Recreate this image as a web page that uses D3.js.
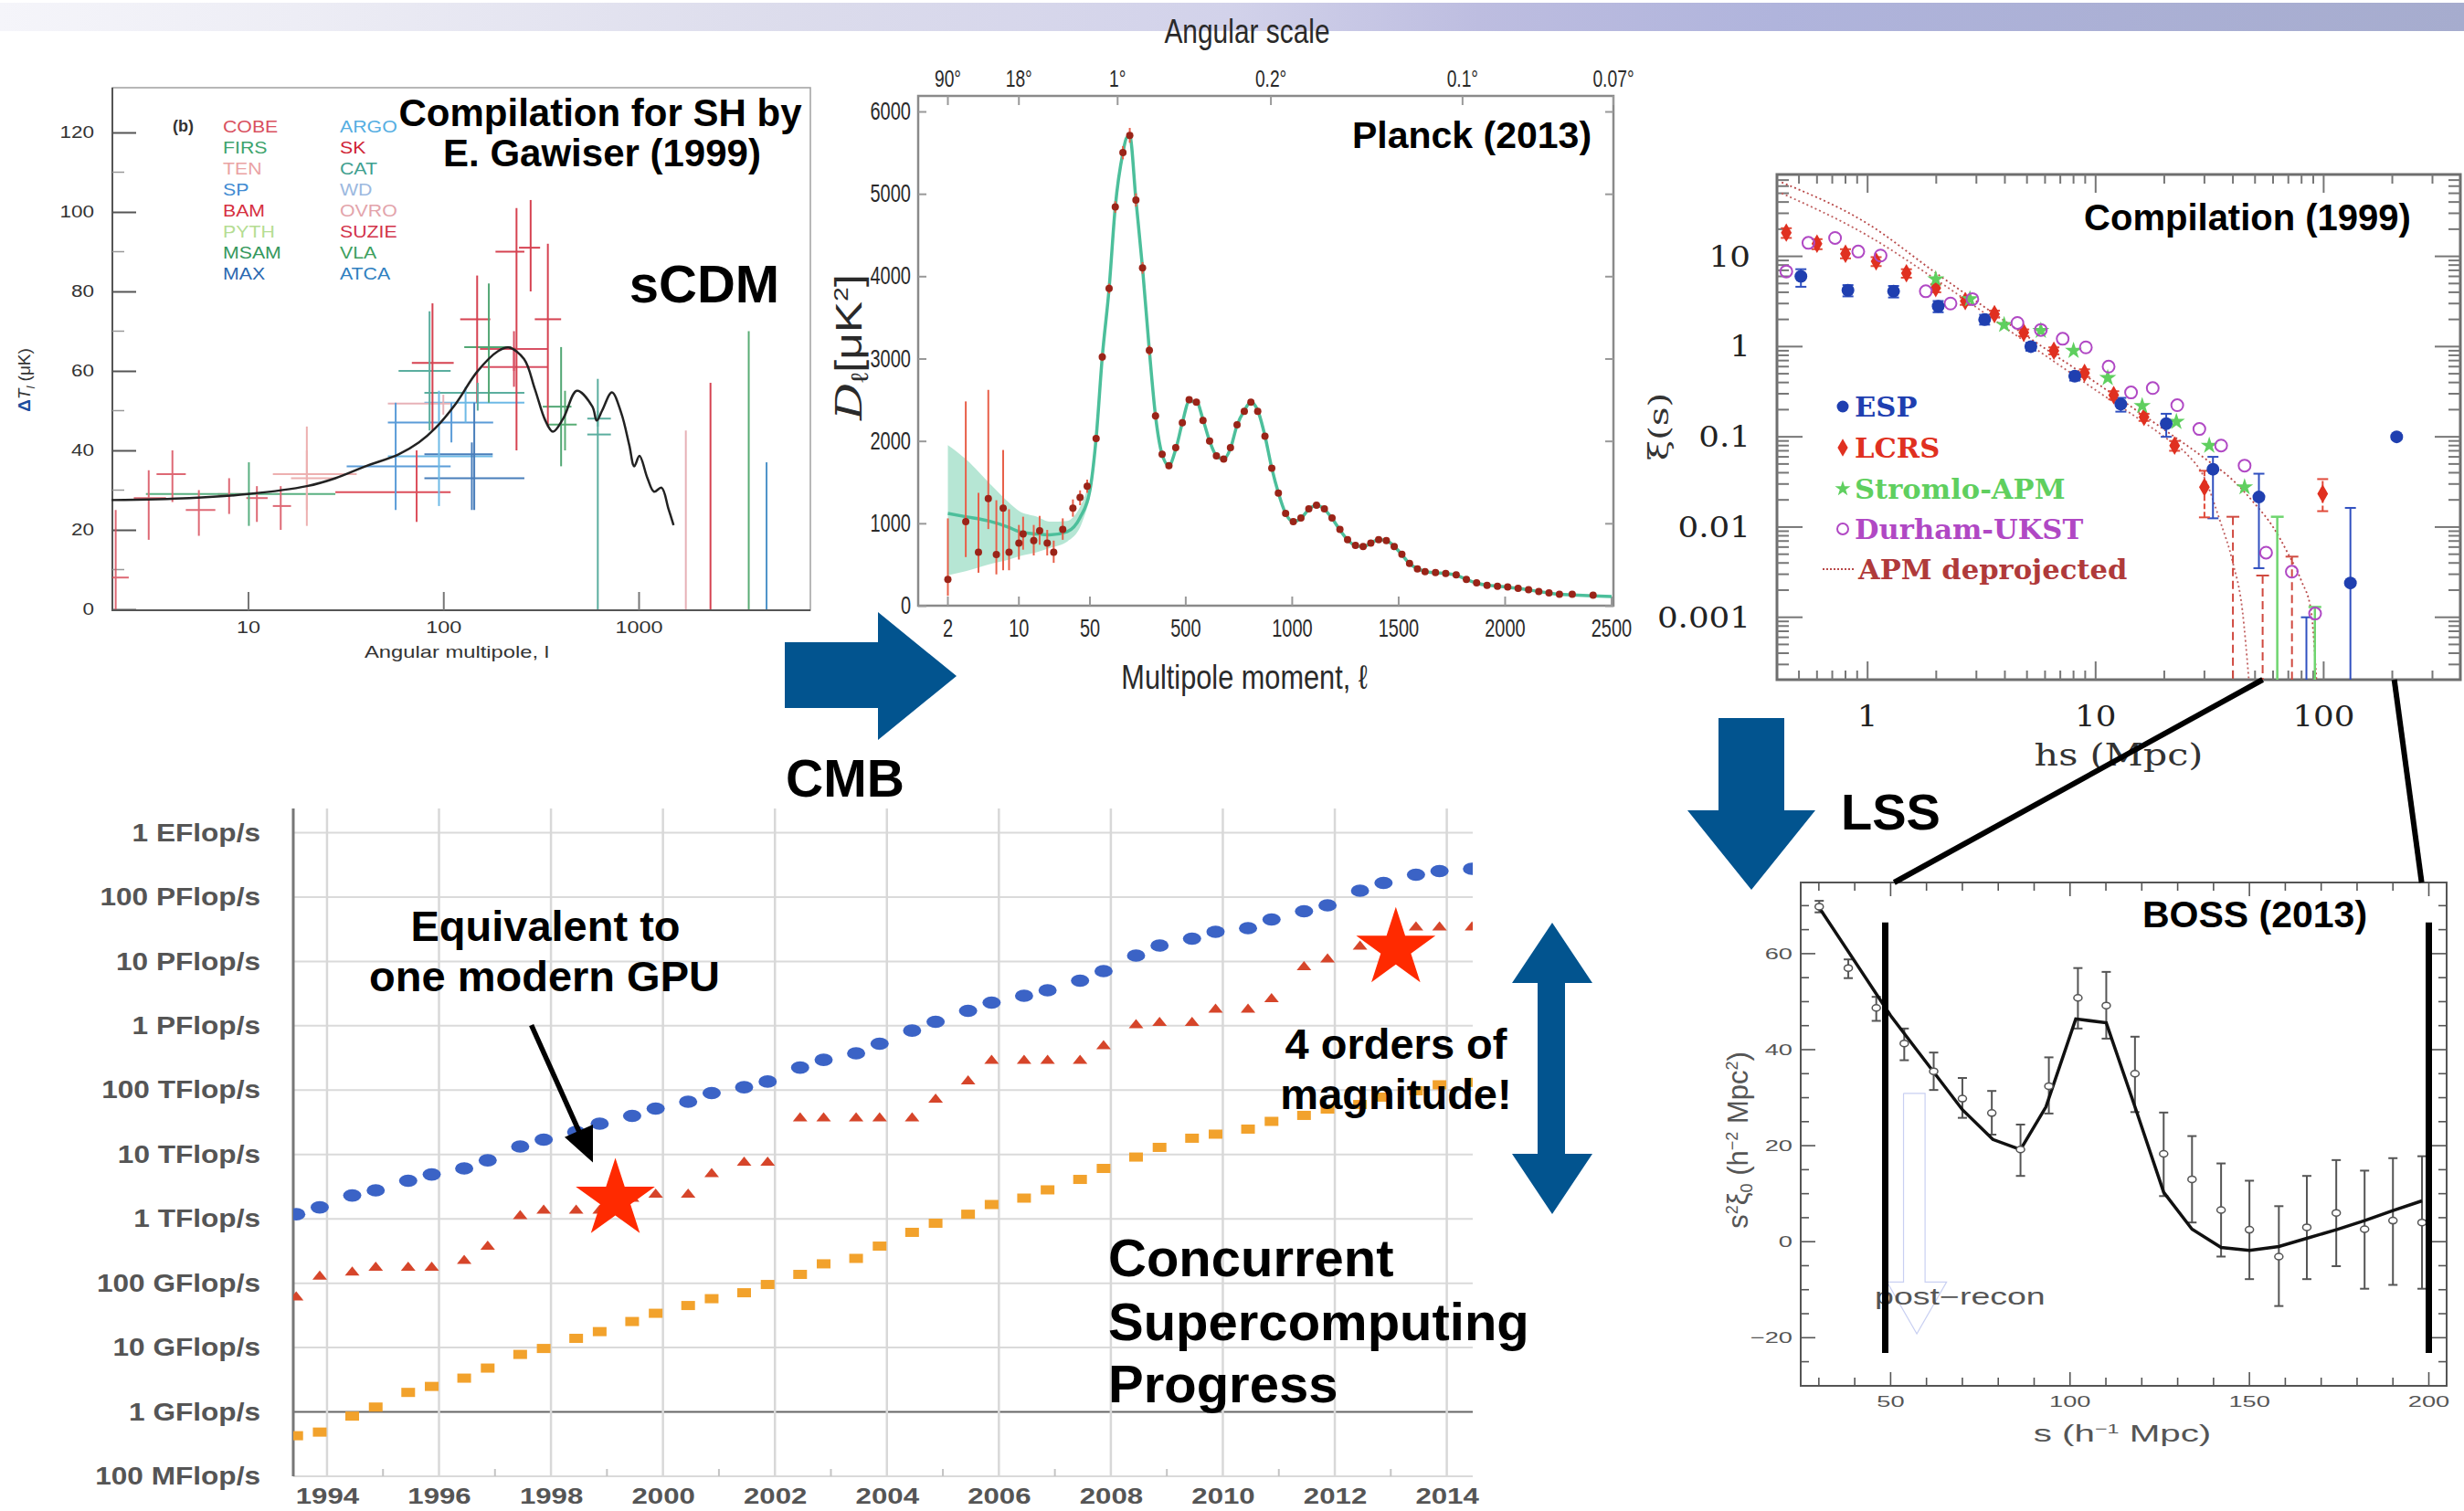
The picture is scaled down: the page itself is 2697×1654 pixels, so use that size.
<!DOCTYPE html>
<html>
<head>
<meta charset="utf-8">
<script src="https://cdn.jsdelivr.net/npm/d3@7/dist/d3.min.js"></script>
<style>
html,body{margin:0;padding:0;background:#fff;}
svg{display:block;}
</style>
</head>
<body>
<svg id="chart" width="2697" height="1654"></svg>
<script>
const SANS = "'Liberation Sans', Arial, Helvetica, sans-serif";
const SERIF = "'DejaVu Serif', 'Liberation Serif', serif";

// ================= DATA =================
// --- Panel A: CMB compilation (Gawiser 1999) ---
const cmbExperiments = ["COBE","FIRS","TEN","SP","BAM","PYTH","MSAM","MAX","ARGO","SK","CAT","WD","OVRO","SUZIE","VLA","ATCA"];
const cmbExpColors   = ["#d9505e","#3da36c","#eaa3a3","#3f8bd2","#d6303f","#b5dd92","#34985c","#2a68b0","#55aee2","#cf2233","#3fa08f","#9cb9e0","#e3a4ab","#d2334a","#3d9f5d","#2f80c0"];
const cmbYTicks = [0,20,40,60,80,100,120];
const cmbYMinor = [10,30,50,70,90,110];
const cmbXTicks = [10,100,1000];
// [experiment, l, lLo, lHi, dT, dTLo, dTHi]
const cmbPoints = [
  ["COBE", 2.1, 2.0, 2.45, 8, 0, 25],
  ["COBE", 3.1, 2.6, 3.8, 28, 17.5, 35],
  ["COBE", 4.1, 3.4, 4.8, 34, 27, 40],
  ["COBE", 5.6, 4.8, 6.8, 25, 18.5, 30],
  ["COBE", 8.0, 7.0, 9.5, 29, 24, 33],
  ["FIRS", 10.1, 3.0, 28, 29, 21, 37],
  ["COBE", 11.1, 9.8, 12.6, 28, 22, 31],
  ["COBE", 14.7, 13.4, 16.6, 26, 20, 31],
  ["TEN", 20, 13.4, 36, 34, 21, 46],
  ["TEN", 20, 16.6, 28, 33, 25, 40],
  ["BAM", 73, 28, 109, 29.5, 22, 40],
  ["SP", 57, 32, 109, 36, 25, 52],
  ["ARGO", 95, 52, 179, 38.5, 26, 55],
  ["MAX", 144, 80, 179, 39, 25, 52],
  ["MAX", 140, 80, 260, 33, 25, 42],
  ["SP", 110, 52, 180, 47, 42, 52],
  ["SK", 88, 69, 113, 62, 45, 77],
  ["CAT", 85, 59, 109, 60, 45, 75],
  ["SK", 149, 122, 174, 73, 52, 84],
  ["MSAM", 171, 128, 223, 66, 52, 82],
  ["SK", 237, 185, 260, 90, 40, 101],
  ["SK", 280, 244, 313, 91, 80, 103],
  ["SK", 343, 294, 401, 73, 46, 92],
  ["SUZIE", 230, 154, 343, 65.5, 60, 70],
  ["SUZIE", 230, 159, 343, 61, 56, 66],
  ["CAT", 150, 80, 260, 54.5, 50, 57],
  ["ARGO", 130, 80, 260, 52, 47, 56],
  ["OVRO", 100, 52, 109, 51.8, 49, 54],
  ["MSAM", 401, 323, 453, 51, 36, 66],
  ["VLA", 420, 343, 482, 46.5, 40, 55],
  ["CAT", 618, 546, 721, 44, 0, 58],
  ["CAT", 618, 546, 721, 48, 46, 50],
  ["OVRO", 1745, 1745, 1745, 0, 0, 45],
  ["SK", 2334, 2334, 2334, 0, 0, 57],
  ["VLA", 3664, 3664, 3664, 0, 0, 70],
  ["ATCA", 4520, 4520, 4520, 0, 0, 37]
];
const scdmL  = [2, 5, 10, 20, 28, 40, 59, 75, 91, 116, 149, 191, 216, 259, 294, 333, 364, 411, 483, 580, 610, 650, 730, 815, 895, 950, 1010, 1110, 1200, 1310, 1420, 1510];
const scdmDT = [27.5, 28, 29, 31, 33, 36, 39, 42, 45.6, 51.8, 59.8, 65, 65.9, 63, 55.5, 47.5, 44.7, 48, 55, 51, 47.5, 50, 54.6, 49.4, 41.4, 36, 38.6, 33, 29.6, 30.6, 25.4, 21.2];

// --- Panel B: Planck 2013 ---
const planckYTicks = [0,1000,2000,3000,4000,5000,6000];
const planckXTicks = [2,10,50,500,1000,1500,2000,2500];
const planckTopLabels = ["90°","18°","1°","0.2°","0.1°","0.07°"];
const planckTopDeg = [90,18,1,0.2,0.1,0.07];
const planckLowL  = [2,3,4,5,6,7,8,10,11,14,16,19,22,27,34,40,47];
const planckLowD  = [320,1020,650,1300,620,1185,650,760,870,790,910,760,650,925,1185,1313,1450];
const planckLowLo = [120,590,400,930,380,430,430,560,680,610,740,610,520,800,1080,1220,1370];
const planckLowHi = [1060,2480,1370,2620,1280,1890,1170,980,1080,980,1090,920,790,1060,1290,1400,1530];
const planckL = [79,108,140,169,205,237,266,297,329,358,389,421,453,484,516,550,581,612,644,678,710,741,775,806,838,872,904,935,969,1005,1041,1078,1114,1151,1187,1224,1260,1297,1333,1369,1406,1442,1479,1515,1551,1588,1624,1673,1721,1770,1818,1866,1915,1964,2012,2061,2110,2158,2206,2255,2315,2413];
const planckD = [2030,3020,3850,4840,5500,5710,4925,4100,3100,2305,1837,1700,1920,2220,2500,2470,2250,2000,1820,1780,1920,2195,2360,2470,2360,2057,1670,1368,1120,1020,1064,1175,1219,1175,1064,926,800,733,717,761,800,789,717,623,513,447,414,403,392,375,320,276,248,237,226,210,193,171,154,138,138,127];
const planckErr = [40,50,60,70,80,90,80,70,60,50,40,40,40,40,40,40,40,40,35,35,35,35,35,35,35,35,30,30,30,30,30,30,30,30,30,25,25,25,25,25,25,25,25,20,20,20,20,20,20,20,20,20,20,20,20,20,20,20,20,20,20,25];
const planckModelL = [2,3,5,8,10,15,20,30,40,50,79,108,140,169,205,222,237,266,297,329,358,389,421,453,484,516,550,581,612,644,678,710,741,775,806,838,872,904,935,969,1005,1041,1078,1114,1151,1187,1224,1260,1297,1333,1369,1406,1442,1479,1515,1551,1588,1624,1673,1721,1770,1818,1866,1915,1964,2012,2061,2110,2158,2206,2255,2315,2413,2500];
const planckModelD = [1120,1080,1030,950,900,870,860,900,1070,1400,2030,3020,3850,4840,5500,5680,5700,4925,4100,3100,2305,1837,1700,1900,2220,2480,2480,2260,2000,1820,1780,1910,2190,2370,2470,2370,2060,1670,1370,1120,1020,1060,1170,1220,1170,1060,920,800,730,715,760,800,790,720,620,510,450,415,400,390,370,320,275,248,237,225,210,192,172,154,138,130,120,110];
const planckBandL  = [2,3,5,8,10,15,20,30,40,50];
const planckBandLo = [370,420,500,560,600,650,700,780,950,1300];
const planckBandHi = [1950,1780,1500,1250,1150,1080,1020,1030,1200,1500];

// --- Panel C: xi(s) compilation 1999 ---
const xiYTicks = [10,1,0.1,0.01,0.001];
const xiYLabels = ["10","1","0.1","0.01","0.001"];
const xiXTicks = [1,10,100];
const espS  = [0.51,0.82,1.30,2.04,3.26,5.2,8.1,12.9,20.4,32.7,52,84,131,209];
const espXi = [6.0,4.2,4.1,2.8,1.99,1.0,0.47,0.23,0.14,0.0437,0.0215,0.0001,0.0024,0.1];
const espLo = [4.6,3.6,3.5,2.4,1.75,0.9,0.42,0.19,0.10,0.0125,0.0035,0.00001,0.00001,0.095];
const espHi = [7.2,4.8,4.7,3.2,2.25,1.1,0.52,0.27,0.18,0.06,0.039,0.001,0.0163,0.105];
const lcrsS  = [0.44,0.60,0.80,1.09,1.48,1.99,2.68,3.6,4.84,6.56,8.94,12.0,16.3,22.2,30,99];
const lcrsXi = [18.3,13.8,10.7,8.8,6.5,4.46,3.19,2.29,1.43,0.90,0.51,0.29,0.166,0.080,0.0277,0.0234];
const lcrsLo = [16,12,9.5,7.8,5.8,4,2.9,2.1,1.3,0.82,0.46,0.26,0.15,0.07,0.0128,0.015];
const lcrsHi = [20.5,15.5,12,9.8,7.2,4.9,3.5,2.5,1.55,0.98,0.56,0.32,0.18,0.09,0.042,0.034];
const lcrsLimS  = [40,54,72.6];
const lcrsLimHi = [0.013,0.0029,0.0047];
const stromloS  = [1.99,2.81,3.97,5.75,8.0,11.3,16,22.6,31.5,45];
const stromloXi = [5.6,3.36,1.74,1.5,0.9,0.45,0.22,0.147,0.080,0.0277];
const stromloLimS  = [62.6,91.5];
const stromloLimHi = [0.013,0.0013];
const durhamS  = [0.44,0.55,0.72,0.91,1.14,1.8,2.31,2.88,4.54,5.75,7.17,9.06,11.4,14.3,17.8,22.8,28.5,35.5,45,55.9,72.5,91.7];
const durhamXi = [6.8,14.1,16,11.3,10.2,4.1,3.0,3.36,1.83,1.53,1.22,0.98,0.60,0.31,0.347,0.224,0.122,0.080,0.048,0.0052,0.0032,0.0011];
const apmS1  = [0.42,1,2,5,10,20,30,40,50,60,70,80,88,93];
const apmXi1 = [66,23,6.5,1.3,0.4,0.12,0.058,0.033,0.018,0.01,0.005,0.0025,0.0012,0.0002];
const apmS2  = [0.42,1,2,5,10,20,25,30,35,40,44,47];
const apmXi2 = [50,17,5.5,1.1,0.33,0.1,0.065,0.035,0.012,0.004,0.0012,0.0002];
const xiLegend = ["ESP","LCRS","Stromlo-APM","Durham-UKST","APM deprojected"];
const xiColors = ["#1f3fb0","#e03020","#5fcf5f","#b048c4","#b03a3a"];

// --- Panel D: BOSS 2013 ---
const bossXTicks = [50,100,150,200];
const bossYTicks = [-20,0,20,40,60];
const bossS  = [30.1,38.2,46,53.8,62,70,78.2,86.2,94.1,102.2,110.1,118.1,126.1,134,142.1,150,158.2,166,174.2,182.1,190,198.1];
const bossXi = [69.8,57,48.7,41.3,35.5,29.8,26.8,19.2,32.4,50.8,49.2,35,18.3,13,6.6,2.5,-3.1,3,6,2.6,4.4,4];
const bossLo = [68.6,54.9,46,37.8,31.6,25.8,22.3,13.7,26.7,44.4,42.3,27,9.5,4,-3.1,-7.8,-13.4,-7.8,-5.1,-9.8,-9,-9.8];
const bossHi = [71,58.8,51,44.4,39.4,34.1,31.4,24.4,38.4,57,56.2,42.7,26.9,22,16.3,12.7,7.4,13.7,17,14.8,17.4,17.8];
const bossModelS  = [30,50,70,78.5,86.2,93.3,101.6,110.1,118.1,126.1,134,142.1,150,158.2,166,174.2,182.1,190,198.1];
const bossModelXi = [69.7,47.1,27.5,21.3,19.2,28.1,46.4,45.6,28.1,10.3,2.6,-1.2,-1.8,-1.0,0.7,2.5,4.4,6.5,8.5];

// --- Panel E: TOP500 performance (TFlop/s) ---
const topDates = [1993.45,1993.87,1994.45,1994.87,1995.45,1995.87,1996.45,1996.87,1997.45,1997.87,1998.45,1998.87,1999.45,1999.87,2000.45,2000.87,2001.45,2001.87,2002.45,2002.87,2003.45,2003.87,2004.45,2004.87,2005.45,2005.87,2006.45,2006.87,2007.45,2007.87,2008.45,2008.87,2009.45,2009.87,2010.45,2010.87,2011.45,2011.87,2012.45,2012.87,2013.45,2013.87,2014.45];
const topSum = [1.18,1.51,2.31,2.77,3.90,4.90,6.07,8.13,13.3,17.0,22.4,30.2,39.8,51.6,66.1,89.9,111,136,224,296,373,526,843,1151,1706,2286,2924,3556,5012,7063,12303,17660,22542,28840,32810,44771,60256,74302,125314,165577,222331,253513,274789];
const topN1 = [0.0624,0.132,0.153,0.181,0.181,0.181,0.231,0.383,1.15,1.39,1.39,1.39,2.14,2.47,2.47,5.15,7.76,7.76,37.8,37.8,37.8,37.8,37.8,74.0,142,296,296,296,296,500,1059,1151,1151,1849,1849,2698,8472,11169,17660,17783,35075,35075,35075];
const topN500 = [0.000427,0.000486,0.000861,0.00119,0.00201,0.00249,0.00335,0.0048,0.00783,0.00968,0.0139,0.0177,0.0254,0.0341,0.045,0.0575,0.0711,0.0955,0.137,0.2,0.243,0.377,0.617,0.855,1.18,1.67,2.10,2.82,4.10,6.07,9.12,12.9,17.9,20.7,24.8,32.7,40.5,50.8,59.8,77.8,97.7,121,132];
const topYTickVals = [1e-4,1e-3,1e-2,1e-1,1,10,100,1e3,1e4,1e5,1e6];
const topYTickLabels = ["100 MFlop/s","1 GFlop/s","10 GFlop/s","100 GFlop/s","1 TFlop/s","10 TFlop/s","100 TFlop/s","1 PFlop/s","10 PFlop/s","100 PFlop/s","1 EFlop/s"];
const topYears = [1994,1996,1998,2000,2002,2004,2006,2008,2010,2012,2014];
const topOddYears = [1995,1997,1999,2001,2003,2005,2007,2009,2011,2013];
const topStarDates = [1999.15, 2013.09];
const topStarVals  = [2.0, 15850];
const gpuArrowDates = [1997.65, 1998.75];
const gpuArrowVals  = [1023, 7.5];

// ================= HELPERS =================
const svg = d3.select('#chart');
const defs = svg.append('defs');

function stretch(sel, sx, abs) {
  if (!abs && (!sx || sx === 1)) return sel;
  sel.each(function () {
    const w = this.getComputedTextLength();
    if (w > 0) {
      this.setAttribute('textLength', (abs ? abs : w * sx).toFixed(1));
      this.setAttribute('lengthAdjust', 'spacingAndGlyphs');
    }
  });
  return sel;
}
function txt(g, x, y, s, o = {}) {
  const t = g.append('text').attr('x', x).attr('y', y).text(s)
    .attr('font-family', o.font || SANS).attr('font-size', o.size || 20)
    .attr('font-weight', o.weight || 'normal').attr('fill', o.fill || '#000')
    .attr('text-anchor', o.anchor || 'start');
  if (o.style) t.attr('font-style', o.style);
  stretch(t, o.sx);
  return t;
}
function styleAxis(g, o) {
  g.select('.domain').remove();
  g.selectAll('.tick line').attr('stroke', o.tick || '#555').attr('stroke-width', o.tw || 1.5);
  const t = g.selectAll('.tick text').attr('font-family', o.font || SANS).attr('font-size', o.size)
    .attr('fill', o.fill || '#333').attr('font-weight', o.weight || 'normal');
  stretch(t, o.sx);
}
function clip(id, b) {
  defs.append('clipPath').attr('id', id).append('rect')
    .attr('x', b.x0).attr('y', b.y0).attr('width', b.x1 - b.x0).attr('height', b.y1 - b.y0);
}

// ================= BACKGROUND BAND =================
const grad = defs.append('linearGradient').attr('id', 'topband').attr('x1', '0%').attr('x2', '100%');
[[0,'#f5f5fa'],[0.12,'#ededf5'],[0.32,'#dcdcec'],[0.5,'#d2d2ea'],[0.6,'#bdbde0'],[0.72,'#b0b4dc'],[1,'#a6acce']]
  .forEach(([o,c]) => grad.append('stop').attr('offset', o).attr('stop-color', c));
svg.append('rect').attr('x', 0).attr('y', 3).attr('width', 2697).attr('height', 31).attr('fill', 'url(#topband)');

// ================= PANEL A =================
const A = {x0:123, x1:887, y0:96, y1:668};
const xA = d3.scaleLog().domain([10,1000]).range([271.5,699]);
const yA = d3.scaleLinear().domain([0,120]).range([667,145]);
const gA = svg.append('g');
clip('clipA', A);
gA.append('rect').attr('x', A.x0).attr('y', A.y0).attr('width', A.x1 - A.x0).attr('height', A.y1 - A.y0)
  .attr('fill', '#fff').attr('stroke', '#a0a0a0').attr('stroke-width', 1.5);
gA.append('path').attr('d', `M${A.x0},${A.y0}V${A.y1}H${A.x1}`).attr('fill', 'none').attr('stroke', '#555').attr('stroke-width', 2);
const aYAxis = gA.append('g').attr('transform', `translate(${A.x0},0)`)
  .call(d3.axisLeft(yA).tickValues(cmbYTicks).tickSize(-26).tickPadding(20));
styleAxis(aYAxis, {size:18, sx:1.25, fill:'#333', tick:'#555', tw:2});
gA.selectAll('line.aminor').data(cmbYMinor).join('line').attr('class','aminor')
  .attr('x1', A.x0).attr('x2', A.x0 + 13).attr('y1', d => yA(d)).attr('y2', d => yA(d))
  .attr('stroke', '#999').attr('stroke-width', 1.5);
const aXAxis = gA.append('g').attr('transform', `translate(0,${A.y1})`)
  .call(d3.axisBottom(xA).tickValues(cmbXTicks).tickSize(-20).tickPadding(12).tickFormat(d3.format('d')));
styleAxis(aXAxis, {size:18, sx:1.3, fill:'#333', tick:'#777', tw:2});

const colorOf = e => cmbExpColors[cmbExperiments.indexOf(e)];
const crossG = gA.append('g').attr('clip-path', 'url(#clipA)').attr('opacity', 0.85);
crossG.selectAll('line.ch').data(cmbPoints.filter(p => p[3] > p[2])).join('line').attr('class','ch')
  .attr('x1', p => xA(p[2])).attr('x2', p => xA(p[3])).attr('y1', p => yA(p[4])).attr('y2', p => yA(p[4]))
  .attr('stroke', p => colorOf(p[0])).attr('stroke-width', 2);
crossG.selectAll('line.cv').data(cmbPoints).join('line').attr('class','cv')
  .attr('x1', p => xA(p[1])).attr('x2', p => xA(p[1])).attr('y1', p => yA(p[5])).attr('y2', p => yA(p[6]))
  .attr('stroke', p => colorOf(p[0])).attr('stroke-width', 2);
gA.append('path').datum(scdmL.map((l, i) => [l, scdmDT[i]]))
  .attr('d', d3.line().x(d => xA(d[0])).y(d => yA(d[1])).curve(d3.curveCatmullRom))
  .attr('fill', 'none').attr('stroke', '#222').attr('stroke-width', 2.5);

// legend A
txt(gA, 189, 144, '(b)', {size:18, weight:'bold', fill:'#333'});
cmbExperiments.forEach((e, i) => {
  const col = Math.floor(i / 8), row = i % 8;
  txt(gA, col === 0 ? 244 : 372, 145 + row * 23, e, {size:19, sx:1.12, fill:cmbExpColors[i]});
});
// axis titles A
txt(gA, 500, 720, 'Angular multipole, l', {size:19, sx:1.25, fill:'#333', anchor:'middle'});
const aY = gA.append('text').attr('transform', 'translate(33,416) rotate(-90)').attr('text-anchor', 'middle')
  .attr('font-family', SANS).attr('font-size', 19).attr('fill', '#333');
aY.append('tspan').text('Δ').attr('fill', '#1d4e9e').attr('font-weight', 'bold');
aY.append('tspan').text('T').attr('font-style', 'italic');
aY.append('tspan').text('l').attr('font-size', 13).attr('dy', 5).attr('font-style', 'italic');
aY.append('tspan').text('   (μK)').attr('dy', -5);
// overlay titles
txt(svg, 657, 138, 'Compilation for SH by', {size:42, weight:'bold', anchor:'middle'});
txt(svg, 659, 182, 'E. Gawiser (1999)', {size:42, weight:'bold', anchor:'middle'});
txt(svg, 771, 331, 'sCDM', {size:58, weight:'bold', anchor:'middle'});

// ================= PANEL B (Planck) =================
const B = {x0:1005, x1:1766, y0:105, y1:663};
const xBlog = d3.scaleLog().domain([2,50]).range([1037.5,1193]);
const xBlin = d3.scaleLinear().domain([50,2500]).range([1193,1764]);
const xB = l => (l <= 50 ? xBlog(l) : xBlin(l));
const yB = d3.scaleLinear().domain([0,6000]).range([663,122]);
const gB = svg.append('g');
clip('clipB', B);
gB.append('rect').attr('x', B.x0).attr('y', B.y0).attr('width', B.x1 - B.x0).attr('height', B.y1 - B.y0)
  .attr('fill', '#fff').attr('stroke', '#8a8a8a').attr('stroke-width', 2.5);
const bYAxis = gB.append('g').attr('transform', `translate(${B.x0},0)`)
  .call(d3.axisLeft(yB).tickValues(planckYTicks).tickSize(-9).tickPadding(8).tickFormat(d3.format('d')));
styleAxis(bYAxis, {size:27, sx:0.74, fill:'#2a2a2a', tick:'#999', tw:2});
const bYAxisR = gB.append('g').attr('transform', `translate(${B.x1},0)`)
  .call(d3.axisRight(yB).tickValues(planckYTicks).tickSize(-9).tickFormat(''));
styleAxis(bYAxisR, {size:1, tick:'#999', tw:2});
gB.selectAll('line.bxt').data(planckXTicks).join('line').attr('class','bxt')
  .attr('x1', d => xB(d)).attr('x2', d => xB(d)).attr('y1', B.y1).attr('y2', B.y1 - 10)
  .attr('stroke', '#999').attr('stroke-width', 2);
gB.selectAll('text.bxl').data(planckXTicks).join('text').attr('class','bxl')
  .attr('x', d => xB(d)).attr('y', 697).attr('text-anchor', 'middle').text(d => d)
  .attr('font-family', SANS).attr('font-size', 27).attr('fill', '#2a2a2a')
  .call(s => stretch(s, 0.74));
const topX = d => Math.min(xB(180 / d), B.x1);
gB.selectAll('line.btt').data(planckTopDeg).join('line').attr('class','btt')
  .attr('x1', d => topX(d)).attr('x2', d => topX(d)).attr('y1', B.y0).attr('y2', B.y0 + 10)
  .attr('stroke', '#999').attr('stroke-width', 2);
gB.selectAll('text.btl').data(planckTopDeg).join('text').attr('class','btl')
  .attr('x', d => topX(d)).attr('y', 95).attr('text-anchor', 'middle').text((d, i) => planckTopLabels[i])
  .attr('font-family', SANS).attr('font-size', 26).attr('fill', '#2a2a2a')
  .call(s => stretch(s, 0.74));
txt(gB, 1365, 47, 'Angular scale', {size:36, sx:0.83, fill:'#2a2a2a', anchor:'middle'});
txt(gB, 1362, 754, 'Multipole moment, ℓ', {size:37, sx:0.83, fill:'#2a2a2a', anchor:'middle'});
const bY = gB.append('text').attr('transform', 'translate(943,380) rotate(-90)').attr('text-anchor', 'middle')
  .attr('font-family', SANS).attr('font-size', 40).attr('fill', '#2a2a2a');
bY.append('tspan').text('D').attr('font-family', SERIF).attr('font-style', 'italic');
bY.append('tspan').text('ℓ').attr('font-size', 26).attr('dy', 7);
bY.append('tspan').text('[μK').attr('dy', -7);
bY.append('tspan').text('2').attr('font-size', 22).attr('dy', -15);
bY.append('tspan').text(']').attr('dy', 15);
stretch(bY, 1, 160);

const gBd = gB.append('g').attr('clip-path', 'url(#clipB)');
gBd.append('path').datum(planckBandL.map((l, i) => [l, planckBandLo[i], planckBandHi[i]]))
  .attr('d', d3.area().x(d => xB(d[0])).y0(d => yB(d[1])).y1(d => yB(d[2])).curve(d3.curveMonotoneX))
  .attr('fill', '#8fd9bd').attr('opacity', 0.65);
gBd.append('path').datum(planckModelL.map((l, i) => [l, planckModelD[i]]))
  .attr('d', d3.line().x(d => xB(d[0])).y(d => yB(d[1])).curve(d3.curveMonotoneX))
  .attr('fill', 'none').attr('stroke', '#4cbf9b').attr('stroke-width', 3.5);
gBd.selectAll('line.ble').data(planckLowL).join('line').attr('class','ble')
  .attr('x1', d => xB(d)).attr('x2', d => xB(d))
  .attr('y1', (d, i) => yB(planckLowLo[i])).attr('y2', (d, i) => yB(planckLowHi[i]))
  .attr('stroke', '#e8604a').attr('stroke-width', 2);
gBd.selectAll('line.bhe').data(planckL).join('line').attr('class','bhe')
  .attr('x1', d => xB(d)).attr('x2', d => xB(d))
  .attr('y1', (d, i) => yB(planckD[i] - planckErr[i])).attr('y2', (d, i) => yB(planckD[i] + planckErr[i]))
  .attr('stroke', '#e8604a').attr('stroke-width', 2);
gBd.selectAll('circle.blp').data(planckLowL).join('circle').attr('class','blp')
  .attr('cx', d => xB(d)).attr('cy', (d, i) => yB(planckLowD[i])).attr('r', 4).attr('fill', '#9a2418');
gBd.selectAll('circle.bhp').data(planckL).join('circle').attr('class','bhp')
  .attr('cx', d => xB(d)).attr('cy', (d, i) => yB(planckD[i])).attr('r', 4).attr('fill', '#9a2418');
txt(svg, 1611, 162, 'Planck (2013)', {size:41, weight:'bold', anchor:'middle'});

// ================= PANEL C (xi(s)) =================
const C = {x0:1945, x1:2693, y0:191, y1:744};
const xC = d3.scaleLog().domain([1,100]).range([2044.2,2543.4]);
const yC = d3.scaleLog().domain([10,0.001]).range([280.6,675.7]);
const gC = svg.append('g');
clip('clipC', C);
gC.append('rect').attr('x', C.x0).attr('y', C.y0).attr('width', C.x1 - C.x0).attr('height', C.y1 - C.y0)
  .attr('fill', '#fff').attr('stroke', '#6e6e6e').attr('stroke-width', 3);
const xMinorC = [], yMinorC = [];
[0.1,1,10,100].forEach(b => [2,3,4,5,6,7,8,9].forEach(m => { const v = b * m; if (v > 0.41 && v < 390) xMinorC.push(v); }));
[1e-4,1e-3,1e-2,1e-1,1,10].forEach(b => [2,3,4,5,6,7,8,9].forEach(m => { const v = b * m; if (v > 0.00021 && v < 80) yMinorC.push(v); }));
const cTicks = gC.append('g').attr('stroke', '#777').attr('stroke-width', 2);
[[xiXTicks, 20], [xMinorC, 10]].forEach(([arr, len]) => {
  cTicks.selectAll(null).data(arr).join('line')
    .attr('x1', d => xC(d)).attr('x2', d => xC(d)).attr('y1', C.y1).attr('y2', C.y1 - len);
  cTicks.selectAll(null).data(arr).join('line')
    .attr('x1', d => xC(d)).attr('x2', d => xC(d)).attr('y1', C.y0).attr('y2', C.y0 + len);
});
[[xiYTicks, 28], [yMinorC, 13]].forEach(([arr, len]) => {
  cTicks.selectAll(null).data(arr).join('line')
    .attr('y1', d => yC(d)).attr('y2', d => yC(d)).attr('x1', C.x0).attr('x2', C.x0 + len);
  cTicks.selectAll(null).data(arr).join('line')
    .attr('y1', d => yC(d)).attr('y2', d => yC(d)).attr('x1', C.x1).attr('x2', C.x1 - len);
});
gC.selectAll('text.cyl').data(xiYTicks).join('text').attr('class','cyl')
  .attr('x', 1916).attr('y', d => yC(d) + 11).attr('text-anchor', 'end').text((d, i) => xiYLabels[i])
  .attr('font-family', SERIF).attr('font-size', 31).attr('fill', '#222').call(s => stretch(s, 1.15));
gC.selectAll('text.cxl').data(xiXTicks).join('text').attr('class','cxl')
  .attr('x', d => xC(d)).attr('y', 795).attr('text-anchor', 'middle').text(d => d)
  .attr('font-family', SERIF).attr('font-size', 31).attr('fill', '#222').call(s => stretch(s, 1.15));
txt(gC, 2319, 838, 'hs (Mpc)', {font:SERIF, size:33, sx:1.25, fill:'#333', anchor:'middle'});
const cY = gC.append('text').attr('transform', 'translate(1826,467) rotate(-90)').attr('text-anchor', 'middle')
  .attr('font-family', SERIF).attr('font-size', 30).attr('fill', '#333').text('ξ(s)');
stretch(cY, 1.35);

const gCd = gC.append('g').attr('clip-path', 'url(#clipC)');
const lineC = d3.line().x(d => xC(d[0])).y(d => yC(d[1])).curve(d3.curveMonotoneX);
gCd.append('path').datum(apmS1.map((s, i) => [s, apmXi1[i]])).attr('d', lineC)
  .attr('fill', 'none').attr('stroke', '#b84848').attr('stroke-width', 1.8).attr('stroke-dasharray', '2,3');
gCd.append('path').datum(apmS2.map((s, i) => [s, apmXi2[i]])).attr('d', lineC)
  .attr('fill', 'none').attr('stroke', '#c06060').attr('stroke-width', 1.8).attr('stroke-dasharray', '2,3');
// limit bars
gCd.selectAll('line.lcl').data(lcrsLimS).join('line').attr('class','lcl')
  .attr('x1', d => xC(d)).attr('x2', d => xC(d)).attr('y1', (d, i) => yC(lcrsLimHi[i])).attr('y2', C.y1)
  .attr('stroke', '#d04a40').attr('stroke-width', 2).attr('stroke-dasharray', '9,5');
gCd.selectAll('line.lcc').data(lcrsLimS).join('line').attr('class','lcc')
  .attr('x1', d => xC(d) - 7).attr('x2', d => xC(d) + 7).attr('y1', (d, i) => yC(lcrsLimHi[i])).attr('y2', (d, i) => yC(lcrsLimHi[i]))
  .attr('stroke', '#d04a40').attr('stroke-width', 2);
gCd.selectAll('line.stl').data(stromloLimS).join('line').attr('class','stl')
  .attr('x1', d => xC(d)).attr('x2', d => xC(d)).attr('y1', (d, i) => yC(stromloLimHi[i])).attr('y2', C.y1)
  .attr('stroke', '#6fd56f').attr('stroke-width', 2.5);
gCd.selectAll('line.stc').data(stromloLimS).join('line').attr('class','stc')
  .attr('x1', d => xC(d) - 7).attr('x2', d => xC(d) + 7).attr('y1', (d, i) => yC(stromloLimHi[i])).attr('y2', (d, i) => yC(stromloLimHi[i]))
  .attr('stroke', '#6fd56f').attr('stroke-width', 2.5);
// error bars
function errBars(g, cls, xs, lo, hi, color, dash) {
  g.selectAll('line.' + cls).data(xs).join('line').attr('class', cls)
    .attr('x1', d => xC(d)).attr('x2', d => xC(d)).attr('y1', (d, i) => yC(lo[i])).attr('y2', (d, i) => yC(hi[i]))
    .attr('stroke', color).attr('stroke-width', 2).attr('stroke-dasharray', dash || null);
  g.selectAll('line.' + cls + 'c').data(xs).join('line').attr('class', cls + 'c')
    .attr('x1', d => xC(d) - 6).attr('x2', d => xC(d) + 6).attr('y1', (d, i) => yC(hi[i])).attr('y2', (d, i) => yC(hi[i]))
    .attr('stroke', color).attr('stroke-width', 2);
  g.selectAll('line.' + cls + 'd').data(xs).join('line').attr('class', cls + 'd')
    .attr('x1', d => xC(d) - 6).attr('x2', d => xC(d) + 6).attr('y1', (d, i) => yC(lo[i])).attr('y2', (d, i) => yC(lo[i]))
    .attr('stroke', color).attr('stroke-width', 2);
}
errBars(gCd, 'espe', espS, espLo, espHi, '#3050c0');
errBars(gCd, 'lcre', lcrsS, lcrsLo, lcrsHi, '#e04a3a', '6,3');
const sym = (t, s) => d3.symbol().type(t).size(s)();
gCd.selectAll('path.lcp').data(lcrsS).join('path').attr('class','lcp')
  .attr('transform', (d, i) => `translate(${xC(d)},${yC(lcrsXi[i])})`).attr('d', sym(d3.symbolDiamond, 120)).attr('fill', xiColors[1]);
gCd.selectAll('path.stp').data(stromloS).join('path').attr('class','stp')
  .attr('transform', (d, i) => `translate(${xC(d)},${yC(stromloXi[i])})`).attr('d', sym(d3.symbolStar, 110)).attr('fill', xiColors[2]);
gCd.selectAll('circle.dup').data(durhamS).join('circle').attr('class','dup')
  .attr('cx', d => xC(d)).attr('cy', (d, i) => yC(durhamXi[i])).attr('r', 6.5)
  .attr('fill', 'none').attr('stroke', xiColors[3]).attr('stroke-width', 2);
gCd.selectAll('circle.esp').data(espS).join('circle').attr('class','esp')
  .attr('cx', d => xC(d)).attr('cy', (d, i) => yC(espXi[i])).attr('r', 7).attr('fill', xiColors[0]);
// legend C
const legY = [445, 490, 535, 579, 623];
gC.append('circle').attr('cx', 2017).attr('cy', legY[0]).attr('r', 6.5).attr('fill', xiColors[0]);
gC.append('path').attr('transform', `translate(2017,${legY[1]})`).attr('d', sym(d3.symbolDiamond, 110)).attr('fill', xiColors[1]);
gC.append('path').attr('transform', `translate(2017,${legY[2]})`).attr('d', sym(d3.symbolStar, 90)).attr('fill', xiColors[2]);
gC.append('circle').attr('cx', 2017).attr('cy', legY[3]).attr('r', 6).attr('fill', 'none').attr('stroke', xiColors[3]).attr('stroke-width', 2);
gC.append('line').attr('x1', 1995).attr('x2', 2029).attr('y1', legY[4]).attr('y2', legY[4])
  .attr('stroke', '#b84848').attr('stroke-width', 2).attr('stroke-dasharray', '2,2');
xiLegend.forEach((s, i) => txt(gC, i < 4 ? 2030 : 2034, legY[i] + 11, s, {font:SERIF, size:30, sx:1.02, weight:'bold', fill:xiColors[i]}));
txt(svg, 2460, 252, 'Compilation (1999)', {size:40, weight:'bold', anchor:'middle'});

// ================= PANEL D (BOSS) =================
const D = {x0:1971, x1:2678, y0:966, y1:1517};
const xD = d3.scaleLinear().domain([50,200]).range([2069.4,2658.5]);
const yD = d3.scaleLinear().domain([60,-20]).range([1043.9,1464.3]);
const gD = svg.append('g');
clip('clipD', D);
gD.append('rect').attr('x', D.x0).attr('y', D.y0).attr('width', D.x1 - D.x0).attr('height', D.y1 - D.y0)
  .attr('fill', '#fff').attr('stroke', '#555').attr('stroke-width', 2);
const dxT = d3.range(30, 201, 10), dyT = d3.range(-25, 71, 5);
const dTicks = gD.append('g').attr('stroke', '#555').attr('stroke-width', 1.6);
dTicks.selectAll(null).data(dxT).join('line').attr('x1', d => xD(d)).attr('x2', d => xD(d))
  .attr('y1', D.y1).attr('y2', d => D.y1 - (d % 50 === 0 ? 15 : 9));
dTicks.selectAll(null).data(dxT).join('line').attr('x1', d => xD(d)).attr('x2', d => xD(d))
  .attr('y1', D.y0).attr('y2', d => D.y0 + (d % 50 === 0 ? 15 : 9));
dTicks.selectAll(null).data(dyT).join('line').attr('y1', d => yD(d)).attr('y2', d => yD(d))
  .attr('x1', D.x0).attr('x2', d => D.x0 + (d % 20 === 0 ? 16 : 9));
dTicks.selectAll(null).data(dyT).join('line').attr('y1', d => yD(d)).attr('y2', d => yD(d))
  .attr('x1', D.x1).attr('x2', d => D.x1 - (d % 20 === 0 ? 16 : 9));
gD.selectAll('text.dyl').data(bossYTicks).join('text').attr('class','dyl')
  .attr('x', 1962).attr('y', d => yD(d) + 6).attr('text-anchor', 'end').text(d => d < 0 ? '−' + (-d) : d)
  .attr('font-family', SANS).attr('font-size', 17).attr('fill', '#555').call(s => stretch(s, 1.6));
gD.selectAll('text.dxl').data(bossXTicks).join('text').attr('class','dxl')
  .attr('x', d => xD(d)).attr('y', 1540).attr('text-anchor', 'middle').text(d => d)
  .attr('font-family', SANS).attr('font-size', 17).attr('fill', '#555').call(s => stretch(s, 1.6));
const dT = gD.append('text').attr('x', 2323).attr('y', 1578).attr('text-anchor', 'middle')
  .attr('font-family', SANS).attr('font-size', 26).attr('fill', '#555');
dT.append('tspan').text('s  (h');
dT.append('tspan').text('−1').attr('font-size', 15).attr('dy', -9);
dT.append('tspan').text(' Mpc)').attr('dy', 9);
stretch(dT, 1.55);
const dY = gD.append('text').attr('transform', 'translate(1913,1248) rotate(-90)').attr('text-anchor', 'middle')
  .attr('font-family', SANS).attr('font-size', 31).attr('fill', '#555');
dY.append('tspan').text('s');
dY.append('tspan').text('2').attr('font-size', 18).attr('dy', -11);
dY.append('tspan').text('ξ').attr('dy', 11);
dY.append('tspan').text('0').attr('font-size', 18).attr('dy', 5);
dY.append('tspan').text('  (h').attr('dy', -5);
dY.append('tspan').text('−2').attr('font-size', 18).attr('dy', -11);
dY.append('tspan').text(' Mpc').attr('dy', 11);
dY.append('tspan').text('2').attr('font-size', 18).attr('dy', -11);
dY.append('tspan').text(')').attr('dy', 11);
// faint outline arrow
gD.append('path').attr('d', d3.line()([[xD(53.6), yD(30.9)], [xD(59.6), yD(30.9)], [xD(59.6), yD(-8.4)], [xD(65.6), yD(-8.4)],
  [xD(57.3), yD(-19.2)], [xD(49), yD(-8.4)], [xD(53.6), yD(-8.4)], [xD(53.6), yD(30.9)]]))
  .attr('fill', 'none').attr('stroke', '#c9d0f2').attr('stroke-width', 1.2);
txt(gD, xD(45.6), yD(-13.1), 'post−recon', {size:25, sx:1.5, fill:'#555'});
const gDd = gD.append('g').attr('clip-path', 'url(#clipD)');
gDd.selectAll('line.de').data(bossS).join('line').attr('class','de')
  .attr('x1', d => xD(d)).attr('x2', d => xD(d)).attr('y1', (d, i) => yD(bossLo[i])).attr('y2', (d, i) => yD(bossHi[i]))
  .attr('stroke', '#555').attr('stroke-width', 2);
[bossLo, bossHi].forEach((arr, k) => gDd.selectAll('line.dc' + k).data(bossS).join('line').attr('class', 'dc' + k)
  .attr('x1', d => xD(d) - 5).attr('x2', d => xD(d) + 5).attr('y1', (d, i) => yD(arr[i])).attr('y2', (d, i) => yD(arr[i]))
  .attr('stroke', '#555').attr('stroke-width', 2));
gDd.append('path').datum(bossModelS.map((s, i) => [s, bossModelXi[i]]))
  .attr('d', d3.line().x(d => xD(d[0])).y(d => yD(d[1])))
  .attr('fill', 'none').attr('stroke', '#111').attr('stroke-width', 3.5);
gDd.selectAll('ellipse.dp').data(bossS).join('ellipse').attr('class','dp')
  .attr('cx', d => xD(d)).attr('cy', (d, i) => yD(bossXi[i])).attr('rx', 4.5).attr('ry', 3.5)
  .attr('fill', '#fff').attr('stroke', '#555').attr('stroke-width', 1.5);
// BOSS range markers
[48.5, 200].forEach(s => gD.append('line').attr('x1', xD(s)).attr('x2', xD(s)).attr('y1', yD(66.5)).attr('y2', yD(-23.2))
  .attr('stroke', '#000').attr('stroke-width', 7));
txt(svg, 2468, 1015, 'BOSS (2013)', {size:41, weight:'bold', anchor:'middle'});

// connectors between C and D
[[54, 51], [204, 198]].forEach(([sc, sd]) => svg.append('line')
  .attr('x1', xC(sc)).attr('y1', C.y1).attr('x2', xD(sd)).attr('y2', D.y0)
  .attr('stroke', '#000').attr('stroke-width', 6));

// ================= PANEL E (TOP500) =================
const E = {x0:321, x1:1612, y0:885, y1:1616};
const xE = d3.scaleLinear().domain([1996,2014]).range([480.5,1583.6]);
const yE = d3.scaleLog().domain([1e-4,1e6]).range([1616,911.5]);
const gE = svg.append('g');
clip('clipE', {x0:E.x0, x1:E.x1, y0:E.y0 - 10, y1:E.y1});
gE.selectAll('line.egh').data(topYTickVals).join('line').attr('class','egh')
  .attr('x1', E.x0).attr('x2', E.x1).attr('y1', d => yE(d)).attr('y2', d => yE(d))
  .attr('stroke', d => d === 1e-3 ? '#666' : '#dadada').attr('stroke-width', 2);
gE.selectAll('line.egv').data(topYears).join('line').attr('class','egv')
  .attr('x1', d => xE(d)).attr('x2', d => xE(d)).attr('y1', E.y0).attr('y2', E.y1)
  .attr('stroke', '#d8d8d8').attr('stroke-width', 2.5);
gE.selectAll('line.egm').data(topOddYears).join('line').attr('class','egm')
  .attr('x1', d => xE(d)).attr('x2', d => xE(d)).attr('y1', E.y1 - 8).attr('y2', E.y1)
  .attr('stroke', '#c4c4c4').attr('stroke-width', 2);
gE.append('line').attr('x1', E.x0).attr('x2', E.x0).attr('y1', E.y0).attr('y2', E.y1).attr('stroke', '#777').attr('stroke-width', 3);
const eY = gE.append('g').attr('transform', `translate(${E.x0},0)`)
  .call(d3.axisLeft(yE).tickValues(topYTickVals).tickSize(0).tickPadding(36).tickFormat((d, i) => topYTickLabels[i]));
styleAxis(eY, {size:27, sx:1.17, fill:'#555', weight:'bold'});
const eX = gE.append('g').attr('transform', `translate(0,${E.y1})`)
  .call(d3.axisBottom(xE).tickValues(topYears).tickSize(0).tickPadding(13).tickFormat(d3.format('d')));
styleAxis(eX, {size:24, sx:1.3, fill:'#555', weight:'bold'});

const gEd = gE.append('g').attr('clip-path', 'url(#clipE)');
gEd.selectAll('rect.n500').data(topDates).join('rect').attr('class','n500')
  .attr('x', d => xE(d) - 7.5).attr('y', (d, i) => yE(topN500[i]) - 5).attr('width', 15).attr('height', 10)
  .attr('fill', '#f2a22c');
gEd.selectAll('path.n1').data(topDates).join('path').attr('class','n1')
  .attr('transform', (d, i) => `translate(${xE(d)},${yE(topN1[i])})`).attr('d', 'M0,-5.5L8,4.5L-8,4.5Z')
  .attr('fill', '#d6452a');
gEd.selectAll('ellipse.sum').data(topDates).join('ellipse').attr('class','sum')
  .attr('cx', d => xE(d)).attr('cy', (d, i) => yE(topSum[i])).attr('rx', 10).attr('ry', 6.8)
  .attr('fill', '#3b63c6');
// stars
gE.selectAll('path.star').data(topStarDates).join('path').attr('class','star')
  .attr('transform', (d, i) => `translate(${xE(d)},${yE(topStarVals[i])})`)
  .attr('d', sym(d3.symbolStar, 2330)).attr('fill', '#ff2a00');
// GPU arrow
(function () {
  const x1 = xE(gpuArrowDates[0]), y1 = yE(gpuArrowVals[0]);
  const x2 = xE(gpuArrowDates[1]), y2 = yE(gpuArrowVals[1]);
  const dx = x2 - x1, dy = y2 - y1, L = Math.hypot(dx, dy), ux = dx / L, uy = dy / L, nx = -uy, ny = ux;
  const hl = 38, hw = 17, bx = x2 - ux * hl, by = y2 - uy * hl;
  gE.append('line').attr('x1', x1).attr('y1', y1).attr('x2', bx + ux * 2).attr('y2', by + uy * 2)
    .attr('stroke', '#000').attr('stroke-width', 5.5);
  gE.append('path').attr('d', `M${x2},${y2}L${bx + nx * hw},${by + ny * hw}L${bx - nx * hw},${by - ny * hw}Z`).attr('fill', '#000');
})();
txt(svg, 597, 1030, 'Equivalent to', {size:47, weight:'bold', anchor:'middle'});
txt(svg, 596, 1085, 'one modern GPU', {size:47, weight:'bold', anchor:'middle'});
txt(svg, 1528, 1159, '4 orders of', {size:47, weight:'bold', anchor:'middle'});
txt(svg, 1528, 1214, 'magnitude!', {size:47, weight:'bold', anchor:'middle'});
txt(svg, 1213, 1397, 'Concurrent', {size:58, weight:'bold'});
txt(svg, 1213, 1467, 'Supercomputing', {size:58, weight:'bold'});
txt(svg, 1213, 1535, 'Progress', {size:58, weight:'bold'});

// ================= BLUE ARROWS & LABELS =================
const BLUE = '#02548f';
svg.append('path').attr('fill', BLUE)
  .attr('d', 'M859,703L961,703L961,670L1047,740L961,810L961,775L859,775Z');
svg.append('path').attr('fill', BLUE)
  .attr('d', 'M1881,786L1953,786L1953,887L1987,887L1917,974L1847,887L1881,887Z');
svg.append('path').attr('fill', BLUE)
  .attr('d', 'M1699,1010L1743,1076L1713,1076L1713,1263L1743,1263L1699,1329L1655,1263L1683,1263L1683,1076L1655,1076Z');
txt(svg, 860, 872, 'CMB', {size:57, weight:'bold'});
txt(svg, 2015, 908, 'LSS', {size:56, weight:'bold'});
</script>
</body>
</html>
